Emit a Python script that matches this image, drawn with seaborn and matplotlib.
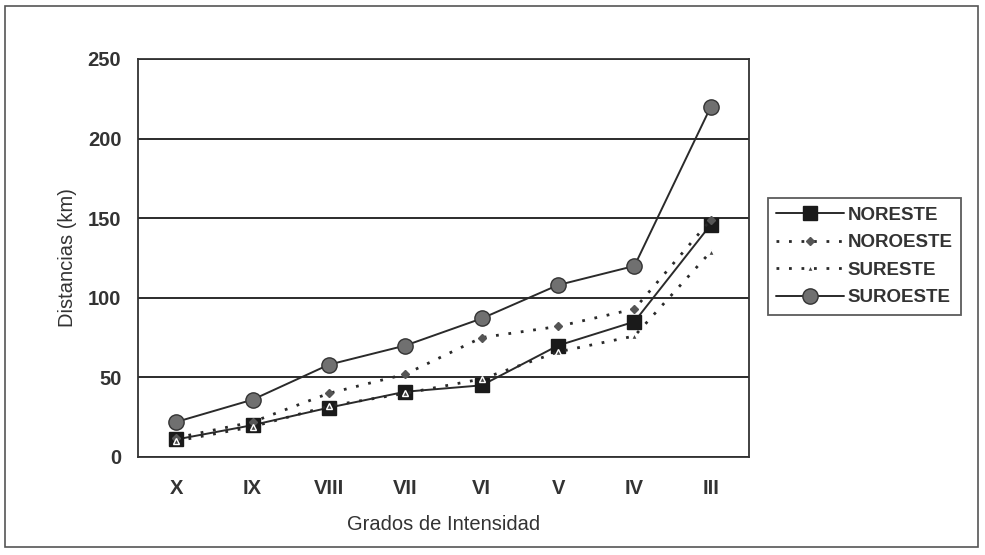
import matplotlib
matplotlib.use("Agg")
import matplotlib.pyplot as plt
import seaborn as sns
import pandas as pd
from matplotlib.patches import Rectangle

# Datos
grados = ["X", "IX", "VIII", "VII", "VI", "V", "IV", "III"]
noreste = [11, 20, 31, 41, 45, 70, 85, 146]
noroeste = [12, 22, 40, 52, 75, 82, 93, 149]
sureste = [10, 19, 32, 40, 49, 66, 76, 129]
suroeste = [22, 36, 58, 70, 87, 108, 120, 220]

df = pd.DataFrame({"Grado": grados, "NORESTE": noreste, "NOROESTE": noroeste,
                   "SURESTE": sureste, "SUROESTE": suroeste})
df_long = df.melt(id_vars="Grado", var_name="Zona", value_name="Distancia")

sns.set_style("white")
plt.rcParams["font.family"] = ["Liberation Sans", "DejaVu Sans"]

fig = plt.figure(figsize=(9.85, 5.55), dpi=100)
ax = fig.add_axes([0.1401, 0.1766, 0.6203, 0.7171])

estilos = {
    "NORESTE": dict(ls="-", marker="s", ms=10, mfc="#1a1a1a", mec="#1a1a1a", lw=1.4),
    "NOROESTE": dict(ls=(0, (1, 3.5)), marker="D", ms=4, mfc="#555555", mec="#555555", lw=2),
    "SURESTE": dict(ls=(0, (1, 3.5)), marker="^", ms=5, mfc="#444444", mec="white", lw=2),
    "SUROESTE": dict(ls="-", marker="o", ms=11, mfc="#707070", mec="#333333", lw=1.4),
}

for zona, st in estilos.items():
    sub = df_long[df_long["Zona"] == zona]
    sns.lineplot(data=sub, x="Grado", y="Distancia", ax=ax, sort=False,
                 color="#2a2a2a", linestyle=st["ls"], linewidth=st["lw"],
                 marker=st["marker"], markersize=st["ms"], markerfacecolor=st["mfc"],
                 markeredgecolor=st["mec"], markeredgewidth=1, label=zona)

ax.set_xlim(-0.5, len(grados) - 0.5)
ax.set_ylim(0, 250)
ax.set_yticks([0, 50, 100, 150, 200, 250])
ax.yaxis.grid(True, color="#1a1a1a", linewidth=1.3)
ax.set_axisbelow(True)

ax.set_xticks(range(len(grados)))
ax.set_xticklabels(grados)
ax.set_xticks([i + 0.5 for i in range(-1, len(grados))], minor=True)
ax.tick_params(axis="x", which="major", length=0, pad=16)
ax.tick_params(axis="x", which="minor", length=6, width=1.3, color="#333333", direction="out")
ax.tick_params(axis="y", length=6, width=1.3, color="#333333", direction="out", pad=6)
ax.tick_params(axis="both", labelsize=14.5, labelcolor="#333333")
for lab in ax.get_xticklabels() + ax.get_yticklabels():
    lab.set_fontweight("bold")

for sp in ax.spines.values():
    sp.set_visible(True)
    sp.set_color("#333333")
    sp.set_linewidth(1.3)

ax.set_xlabel("Grados de Intensidad", fontsize=14.5, color="#333333", labelpad=12)
ax.set_ylabel("Distancias (km)", fontsize=14.5, color="#333333", labelpad=8)

leg = ax.legend(loc="center left", bbox_to_anchor=(0.770, 0.538), bbox_transform=fig.transFigure,
                frameon=True, fancybox=False, edgecolor="#333333", handlelength=3.6,
                handletextpad=0.2, borderpad=0.45, labelspacing=0.55,
                prop={"size": 13.5, "weight": "bold"})
leg.get_frame().set_linewidth(1.3)
for t in leg.get_texts():
    t.set_color("#333333")

fig.patches.append(Rectangle((0.005, 0.015), 0.988, 0.974, transform=fig.transFigure,
                             fill=False, edgecolor="#555555", linewidth=1.2))

fig.savefig("out.png", dpi=100)
